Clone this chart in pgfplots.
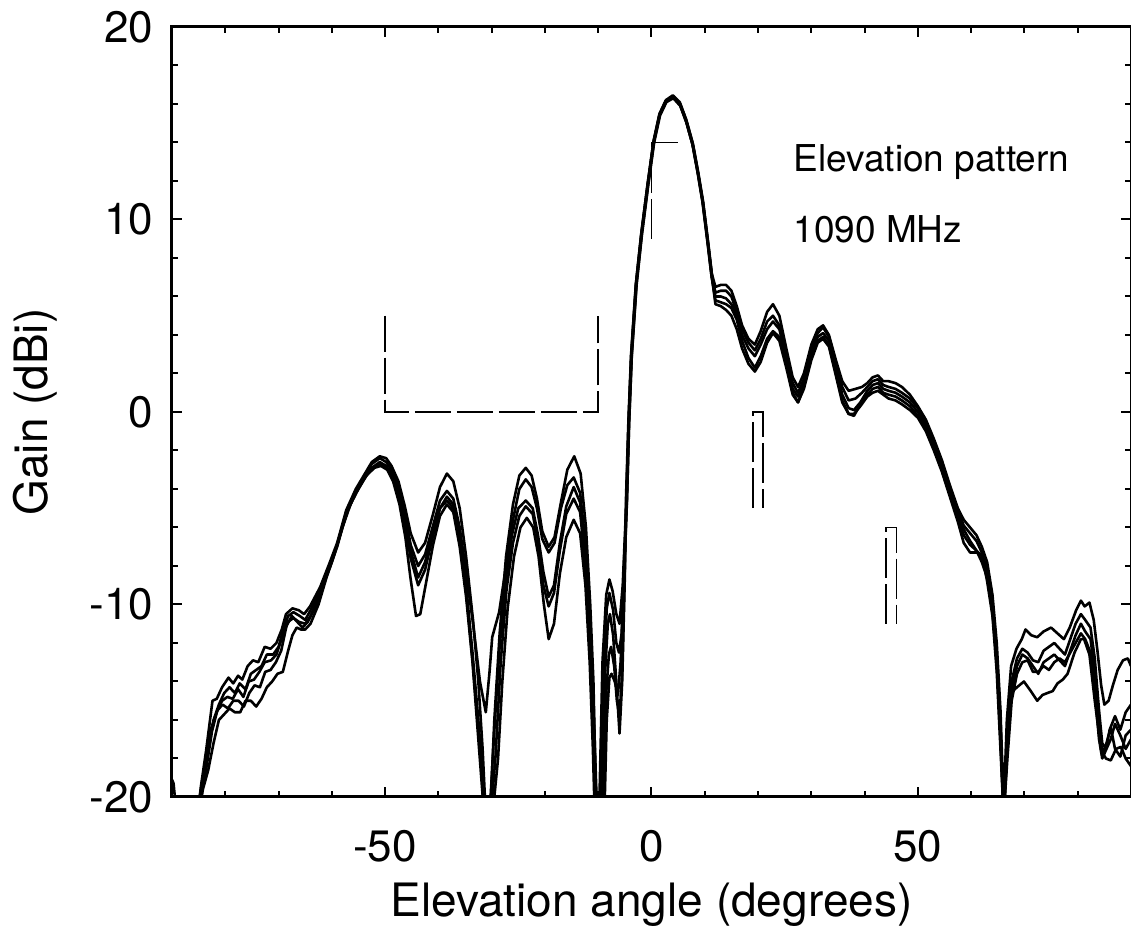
\documentclass[border=0pt]{standalone}
\usepackage{fontspec}
\setmainfont{TeX Gyre Heros}
\usepackage{pgfplots}
\pgfplotsset{compat=1.18}
\begin{document}
\begin{tikzpicture}
\begin{axis}[name=ax, at={(0,0)}, anchor=south west,
 scale only axis, width=479.5pt, height=385pt,
 xmin=-90, xmax=90, ymin=-20, ymax=20,
 xtick={-50,0,50}, xticklabels={-50,0,50},
 ytick={-20,-10,0,10,20}, yticklabels={-20,-10,0,10,20},
 minor xtick={-80,-70,-60,-40,-30,-20,-10,10,20,30,40,60,70,80},
 minor ytick={-18,-16,-14,-12,-8,-6,-4,-2,2,4,6,8,12,14,16,18},
 tick align=inside, xtick pos=both, ytick pos=both,
 major tick length=5pt, minor tick length=3pt,
 every tick/.style={black, line width=1pt},
 axis line style={line width=1.5pt},
 ticklabel style={font=\fontsize{22}{26}\selectfont},
 xticklabel style={yshift=-13pt},
 yticklabel style={xshift=-6pt},
 cycle list={{black, solid, mark=none}},
 every axis plot/.append style={black, line width=1.3pt, line join=round, mark=none},
 clip=true]

% tiny piece at left edge
\addplot coordinates {(-90,-19.1) (-89.7,-19.3) (-89.3,-20.5)};

% Series A (top)
\addplot coordinates {
(-85.2,-21) (-84.6,-19.5) (-83.6,-17.6) (-82.4,-15.0) (-81.6,-14.9) (-80.6,-14.3) (-79.4,-13.8) (-78.5,-14.1) (-77.6,-13.7) (-76.8,-13.9) (-75.8,-13.2) (-74.8,-12.9) (-73.8,-13.0) (-72.6,-12.2) (-71.5,-12.3) (-70.4,-12.0) (-69.4,-11.3) (-68.6,-10.5) (-67.4,-10.2) (-66.2,-10.3) (-65.2,-10.5) (-64.1,-10.1) (-62.2,-9.1) (-60.5,-7.9) (-59.0,-6.8) (-57.3,-5.1) (-55.5,-4.0) (-54,-3.3) (-52.5,-2.6) (-51,-2.3) (-49.8,-2.4) (-48.8,-2.8) (-47.5,-3.6) (-46.3,-4.9) (-45.2,-6.3) (-43.8,-7.3) (-42.5,-6.8) (-41,-5.3) (-39.7,-3.9) (-38.4,-3.2) (-37.2,-3.6) (-36,-5.0) (-34.8,-7.5) (-33.5,-10.8) (-32.5,-14) (-31.7,-17.5) (-31.1,-21) (-30.3,-21) (-29.5,-16) (-28.5,-11.5) (-27.3,-7.5) (-26,-4.8) (-24.8,-3.3) (-23.6,-2.9) (-22.5,-3.3) (-21.5,-4.5) (-20.5,-6.2) (-19.3,-7.0) (-18.2,-6.5) (-17,-4.7) (-15.8,-3.0) (-14.5,-2.3) (-13.3,-3.2) (-12.3,-6.0) (-11.5,-10) (-10.9,-14) (-10.4,-20.5) (-9.8,-20.5) (-9.2,-13) (-8.5,-9.5) (-7.9,-8.7) (-7.3,-9.3) (-6.6,-10.5) (-6.0,-11) (-5.4,-9) 
(-4.7,-4.5) (-4.3,-0.5) (-3.8,3.0) (-2.9,6.7) (-1.9,9.3) (-0.7,11.9) (0.4,14.1) (1.5,15.5) (2.7,16.2) (4,16.45) (5.3,16.1) (6.5,15.2) (7.7,14.0) (8.7,12.5) (9.6,11.0) (10.5,9.0) (11.3,7.2)
(12,6.5) (13,6.6) (14,6.6) (15,6.3) (16,5.5) (17,4.5) (18.2,3.8) (19.4,3.5) (20.5,4.2) (21.7,5.2) (22.8,5.6) (24,5.0) (25.3,3.3) (26.5,1.8) (27.5,1.3) (28.6,2.0) (30,3.5) (31.2,4.3) (32.2,4.5) (33.3,4.0) (34.6,2.7) (35.8,1.6) (37,1.1) (38.3,1.2) (39.5,1.3) (40.5,1.5) (41.5,1.8) (42.5,1.9) (43.5,1.6) (44.5,1.6) (45.8,1.5) (47,1.3) (48.5,0.9) (50,0.3) (51.5,-0.4) (53,-1.4) (54.5,-2.5) (56,-3.8) (57.5,-5.0) (58.6,-5.6) (59.8,-6.0) (61,-6.4) (62,-7.0) (63,-7.8) (64,-9.5) (64.8,-12) (65.5,-15.5) (66.1,-20.5) (66.7,-16) (67.5,-13.2) (68.5,-12.3) (69.5,-11.8) (70.2,-11.3) (71.3,-11.6) (72.4,-11.7) (73.6,-11.4) (75,-11.2) (76.2,-11.5) (77.4,-11.8) (78.5,-11.2) (79.7,-10.3) (80.6,-9.8) (81.3,-10.1) (82.2,-9.9) (83,-10.8) (83.7,-12.4) (84.4,-14.2) (85,-15.2) (85.8,-15) (86.6,-14.2) (87.5,-13.4) (88.5,-12.9) (89.4,-12.8) (90,-13.2)
};

% Series B
\addplot coordinates {
(-85,-21) (-84.4,-19.7) (-83.4,-17.9) (-82.2,-16.0) (-81.2,-15.2) (-80.2,-14.6) (-79.2,-14.3) (-78.2,-14.6) (-77.3,-14.1) (-76.2,-14.4) (-75.2,-13.6) (-74.2,-13.4) (-73.2,-13.2) (-72.2,-12.6) (-71,-12.6) (-70,-12.2) (-69,-11.2) (-68.2,-10.6) (-67.2,-10.4) (-66,-10.6) (-65,-10.8) (-64,-10.3) (-62.2,-9.3) (-60.5,-8.0) (-59,-6.9) (-57.3,-5.2) (-55.5,-4.1) (-54,-3.4) (-52.5,-2.7) (-51,-2.4) (-49.8,-2.6) (-48.8,-3.0) (-47.5,-3.9) (-46.3,-5.3) (-45.2,-6.9) (-43.8,-8.0) (-42.5,-7.4) (-41,-5.9) (-39.7,-4.6) (-38.4,-4.1) (-37.2,-4.5) (-36,-6.0) (-34.8,-8.3) (-33.4,-11.2) (-32.2,-14) (-31.1,-15.6) (-30.4,-13.5) (-29.9,-11.7) (-28.6,-10.4) (-27.4,-8.2) (-26,-5.6) (-24.8,-4.0) (-23.6,-3.5) (-22.5,-3.9) (-21.5,-5.0) (-20.5,-6.6) (-19.3,-7.3) (-18.2,-6.8) (-17,-5.0) (-15.8,-3.8) (-14.6,-3.4) (-13.4,-4.2) (-12.4,-6.8) (-11.6,-10.5) (-10.9,-15) (-10.2,-21) (-9.6,-21) (-9.0,-14) (-8.4,-10.2) (-7.9,-9.4) (-7.2,-10.3) (-6.6,-12.0) (-6.1,-12.5) (-5.6,-11.5) (-5.1,-7.5)
(-4.6,-4.5) (-4.2,-0.5) (-3.7,3.0) (-2.8,6.7) (-1.8,9.3) (-0.6,11.9) (0.5,14.1) (1.6,15.5) (2.8,16.2) (4.1,16.4) (5.4,16.0) (6.6,15.1) (7.8,13.9) (8.8,12.4) (9.7,10.9) (10.6,8.9) (11.4,7.0)
(12,6.2) (13,6.3) (14,6.3) (15,6.0) (16,5.2) (17,4.3) (18.2,3.6) (19.4,3.2) (20.5,3.8) (21.7,4.7) (22.8,5.0) (24,4.5) (25.3,3.0) (26.5,1.5) (27.5,1.0) (28.6,1.7) (30,3.2) (31.2,4.1) (32.2,4.4) (33.3,3.9) (34.6,2.6) (35.8,1.3) (37,0.6) (38.3,0.7) (39.5,1.0) (40.5,1.3) (41.5,1.6) (42.5,1.7) (43.5,1.4) (44.5,1.3) (45.8,1.2) (47,1.0) (48.5,0.7) (50,0.2) (51.5,-0.5) (53,-1.5) (54.5,-2.6) (56,-3.9) (57.5,-5.1) (58.6,-5.9) (59.8,-6.3) (61,-6.7) (62,-7.3) (63,-8.2) (64,-9.9) (64.8,-12.5) (65.5,-16) (66.1,-21) (66.8,-17) (67.6,-14.0) (68.6,-12.8) (69.6,-12.3) (70.6,-12.5) (71.6,-12.9) (72.6,-13.0) (73.6,-12.4) (74.6,-12.2) (75.6,-12.0) (76.6,-12.3) (77.6,-12.6) (78.6,-11.8) (79.6,-11.0) (80.6,-10.5) (81.4,-10.8) (82.4,-11.2) (83.2,-12.8) (84,-15.5) (84.6,-17.2) (85.3,-17.5) (86,-16.5) (87,-15.8) (88,-16.5) (89,-15.6) (90,-15.2)
};

% Series C
\addplot coordinates {
(-85.4,-21) (-84.8,-20) (-83.8,-18.3) (-82.6,-16.4) (-81.6,-15.6) (-80.6,-15.0) (-79.6,-14.8) (-78.6,-14.9) (-77.6,-14.4) (-76.6,-14.8) (-75.6,-14.0) (-74.6,-13.9) (-73.6,-13.5) (-72.6,-13.0) (-71.4,-12.9) (-70.4,-12.6) (-69.2,-11.6) (-68.2,-10.9) (-67.2,-10.7) (-66.2,-10.9) (-65,-11.0) (-64,-10.6) (-62.2,-9.4) (-60.5,-8.1) (-59,-7.0) (-57.3,-5.3) (-55.5,-4.2) (-54,-3.5) (-52.5,-2.9) (-51,-2.7) (-49.8,-2.9) (-48.8,-3.3) (-47.5,-4.3) (-46.3,-5.8) (-45.2,-7.6) (-43.8,-9.0) (-42.5,-8.2) (-41,-6.4) (-39.7,-5.0) (-38.4,-4.4) (-37.2,-4.8) (-36,-6.5) (-34.8,-9.0) (-33.6,-12.5) (-32.5,-16) (-31.5,-19.5) (-30.6,-22) (-29.6,-17) (-28.6,-12.5) (-27.4,-8.8) (-26.2,-6.4) (-25,-5.0) (-23.6,-4.6) (-22.3,-5.0) (-21.3,-6.4) (-20.3,-8.3) (-19.3,-9.6) (-18.3,-9.0) (-17.2,-6.8) (-16,-4.9) (-14.6,-3.9) (-13.4,-4.7) (-12.4,-7.5) (-11.6,-11.5) (-10.9,-16) (-10.2,-21.5) (-9.4,-21) (-8.8,-14) (-8.2,-11.0) (-7.8,-10.5) (-7.2,-11.6) (-6.6,-14) (-6.0,-16.7) (-5.5,-14) (-5.0,-8.5)
(-4.8,-4.6) (-4.35,-0.6) (-3.85,2.9) (-2.95,6.6) (-1.95,9.2) (-0.75,11.8) (0.35,14.0) (1.45,15.4) (2.65,16.15) (3.95,16.4) (5.25,16.05) (6.45,15.15) (7.65,13.95) (8.65,12.45) (9.55,10.95) (10.45,8.95) (11.25,7.1)
(12,6.0) (13,6.0) (14,5.9) (15,5.6) (16,5.0) (17,4.0) (18.2,3.3) (19.4,2.9) (20.5,3.5) (21.7,4.3) (22.8,4.7) (24,4.3) (25.3,2.8) (26.5,1.2) (27.5,0.8) (28.6,1.5) (30,3.0) (31.2,3.9) (32.2,4.1) (33.3,3.7) (34.6,2.3) (35.8,0.9) (37,0.2) (38,0.1) (39.2,0.5) (40.5,1.1) (41.5,1.4) (42.5,1.5) (43.5,1.2) (44.5,1.1) (45.8,1.0) (47,0.8) (48.5,0.5) (50,0.0) (51.5,-0.7) (53,-1.7) (54.5,-2.8) (56,-4.1) (57.5,-5.3) (58.6,-6.1) (59.8,-6.7) (61,-7.2) (62,-7.8) (63,-8.6) (64,-10.2) (64.8,-13) (65.5,-16.5) (66.1,-21) (66.8,-17.5) (67.6,-14.5) (68.6,-13.2) (69.6,-12.6) (70.6,-12.8) (71.6,-13.2) (72.6,-13.6) (73.6,-13.0) (74.6,-12.8) (75.6,-12.6) (76.6,-12.9) (77.6,-13.2) (78.6,-12.4) (79.6,-11.6) (80.6,-11.0) (81.4,-11.4) (82.4,-11.8) (83.2,-13.5) (84,-16) (84.6,-17.8) (85.4,-17.2) (86.2,-16.4) (87,-17.5) (88,-17.9) (89,-16.8) (90,-16.5)
};

% Series D
\addplot coordinates {
(-85.2,-21) (-84.5,-19.9) (-83.5,-18.4) (-82.5,-16.6) (-81.5,-15.5) (-80.5,-15.2) (-79.5,-15.4) (-78.5,-15.0) (-77.5,-15.0) (-76.5,-15.3) (-75.5,-14.6) (-74.5,-14.2) (-73.5,-14.3) (-72.5,-13.5) (-71.5,-13.4) (-70.5,-13.0) (-69.5,-12.4) (-68.5,-11.1) (-67.5,-10.6) (-66.5,-10.9) (-65.5,-11.2) (-64.5,-10.9) (-63,-10.1) (-61.5,-8.9) (-60,-7.8) (-58.5,-6.4) (-57,-5.1) (-55.5,-4.2) (-54,-3.5) (-52.5,-2.9) (-51,-2.6) (-49.8,-2.8) (-48.8,-3.2) (-47.5,-4.0) (-46.3,-5.4) (-45.2,-7.2) (-43.8,-8.6) (-42.5,-7.8) (-41,-6.2) (-39.7,-5.0) (-38.4,-4.6) (-37.2,-5.0) (-36,-6.7) (-34.8,-9.3) (-33.6,-12.8) (-32.5,-16.5) (-31.5,-20) (-30.5,-22) (-29.3,-18) (-28.3,-13) (-27.2,-9.2) (-26,-6.8) (-24.8,-5.4) (-23.6,-4.9) (-22.3,-5.3) (-21.3,-6.7) (-20.3,-9.0) (-19.3,-10.1) (-18.3,-9.4) (-17.2,-7.2) (-16,-5.3) (-14.6,-4.5) (-13.4,-5.2) (-12.4,-8) (-11.6,-12) (-10.9,-16.5) (-10.4,-21.5) (-9.2,-21.5) (-8.6,-15) (-8.0,-12.6) (-7.6,-12.2) (-7.0,-13.2) (-6.5,-15.0) (-6.0,-15.8) (-5.5,-13.5) (-5.0,-8.0)
(-4.7,-4.6) (-4.3,-0.6) (-3.8,2.9) (-2.9,6.6) (-1.9,9.2) (-0.7,11.8) (0.4,14.0) (1.5,15.4) (2.7,16.1) (4,16.35) (5.3,16.0) (6.5,15.1) (7.7,13.9) (8.7,12.4) (9.6,10.9) (10.5,8.9) (11.3,7.0)
(12,5.8) (13,5.7) (14,5.6) (15,5.4) (16,4.8) (17,3.7) (18.2,2.8) (19.4,2.3) (20.5,2.9) (21.7,3.8) (22.8,4.2) (24,3.9) (25.3,2.5) (26.5,1.0) (27.5,0.5) (28.6,1.3) (30,2.8) (31.2,3.7) (32.2,3.9) (33.3,3.5) (34.6,2.0) (35.8,0.6) (37,-0.1) (38,-0.2) (39.2,0.4) (40.5,0.9) (41.5,1.2) (42.5,1.3) (43.5,1.0) (44.5,0.9) (45.8,0.8) (47,0.6) (48.5,0.3) (50,-0.2) (51.5,-0.8) (53,-1.8) (54.5,-3.0) (56,-4.3) (57.5,-5.5) (58.6,-6.4) (59.8,-6.9) (61,-7.2) (62,-7.5) (63,-8.4) (64,-10.4) (64.8,-13) (65.5,-17) (66.1,-21) (66.8,-18) (67.6,-15) (68.6,-13.6) (69.6,-13.0) (70.6,-12.9) (71.6,-13.5) (72.6,-13.5) (73.6,-13.2) (74.6,-13.4) (75.6,-13.0) (76.6,-12.8) (77.6,-13.0) (78.6,-12.5) (79.6,-12.0) (80.6,-11.5) (81.4,-11.8) (82.4,-12.5) (83.2,-14.5) (84,-17) (84.6,-18) (85.4,-17.5) (86.2,-17.0) (87,-16.2) (88,-16.8) (89,-17.5) (90,-17.0)
};

% Series E (bottom)
\addplot coordinates {
(-85,-21) (-84.2,-19.6) (-83.2,-18.6) (-82.2,-17.2) (-81.2,-16.0) (-80.2,-15.7) (-79.2,-15.4) (-78.2,-15.6) (-77.2,-15.6) (-76.2,-15.0) (-75.2,-15.0) (-74.2,-15.3) (-73.2,-14.9) (-72.2,-14.3) (-71.2,-14.0) (-70.2,-13.6) (-69.2,-13.5) (-68.2,-12.4) (-67.4,-11.6) (-66.6,-11.2) (-65.8,-11.3) (-65,-11.3) (-64,-11.0) (-62.5,-10.0) (-61,-8.6) (-59.5,-7.4) (-58,-6.0) (-56.5,-4.8) (-55,-4.0) (-53.5,-3.3) (-52,-2.9) (-50.8,-2.8) (-49.6,-3.0) (-48.5,-3.6) (-47.3,-4.8) (-46.2,-6.5) (-45.2,-8.7) (-44.2,-10.6) (-43.4,-10.5) (-42.4,-9.0) (-41,-6.9) (-39.7,-5.4) (-38.4,-4.8) (-37.2,-5.2) (-36,-7.0) (-34.8,-9.6) (-33.6,-13) (-32.5,-17) (-31.4,-21) (-30.2,-22) (-28.8,-18) (-28,-14) (-27,-10.2) (-25.8,-7.5) (-24.6,-6.0) (-23.4,-5.5) (-22.2,-6.0) (-21.2,-7.5) (-20.2,-10.0) (-19.3,-11.8) (-18.3,-11.0) (-17.2,-8.4) (-16,-6.5) (-14.6,-5.6) (-13.4,-6.3) (-12.4,-9) (-11.6,-13) (-11,-17.5) (-10.6,-21.5) (-8.9,-21.5) (-8.4,-16) (-7.9,-13.8) (-7.5,-13.6) (-6.9,-14.0) (-6.3,-14.7) (-5.8,-13) (-5.2,-9)
(-4.6,-4.6) (-4.2,-0.6) (-3.7,2.9) (-2.8,6.6) (-1.8,9.2) (-0.6,11.8) (0.5,14.0) (1.6,15.4) (2.8,16.1) (4.1,16.3) (5.4,15.9) (6.6,15.0) (7.8,13.8) (8.8,12.3) (9.7,10.8) (10.6,8.8) (11.4,6.9)
(12,5.6) (13,5.5) (14,5.3) (15,5.0) (16,4.3) (17,3.3) (18.2,2.5) (19.4,2.1) (20.5,2.6) (21.7,3.6) (22.8,4.1) (24,3.7) (25.3,2.3) (26.5,0.9) (27.5,0.5) (28.6,1.2) (30,2.7) (31.2,3.6) (32.2,3.8) (33.3,3.4) (34.6,1.9) (35.8,0.5) (37,-0.1) (38,-0.1) (39.2,0.3) (40.5,0.8) (41.5,1.0) (42.5,1.1) (43.5,0.9) (44.5,0.7) (45.8,0.6) (47,0.4) (48.5,0.1) (50,-0.3) (51.5,-1.0) (53,-2.0) (54.5,-3.1) (56,-4.4) (57.5,-5.7) (58.6,-6.8) (59.8,-7.3) (61,-7.3) (62,-7.4) (63,-8.8) (64,-10.6) (64.8,-13.5) (65.5,-17.5) (66.1,-21) (66.8,-17) (67.4,-14.6) (68.6,-14.3) (69.9,-14.0) (71.2,-14.5) (72.4,-15.0) (73.4,-14.7) (74.3,-14.6) (75.3,-14.5) (76.2,-14.1) (77.2,-13.9) (78.1,-13.6) (79.4,-12.5) (80.6,-11.8) (81.2,-11.8) (82.2,-12.6) (83.2,-15.0) (84.4,-17.6) (85.3,-18.0) (86.2,-18.1) (87.2,-17.5) (88.1,-17.4) (89,-18.0) (90,-18.4)
};

% mask lines
\addplot[line width=0.9pt, dash pattern=on 18pt off 3pt, line join=miter] coordinates {(-50,5) (-50,0) (-10,0) (-10,5)};
\addplot[line width=0.9pt, dash pattern=on 20pt off 3pt, line join=miter] coordinates {(0,9) (0,14) (5,14)};
\addplot[line width=0.9pt, dash pattern=on 20pt off 3pt, line join=miter] coordinates {(19,-5) (19,0) (21,0) (21,-5)};
\addplot[line width=0.9pt, dash pattern=on 20pt off 3pt, line join=miter] coordinates {(44,-11) (44,-6) (46,-6) (46,-11)};

\node[anchor=base west, inner sep=0pt, font=\fontsize{18.5}{22}\selectfont] at (axis cs:26.6,12.47) {Elevation pattern};
\node[anchor=base west, inner sep=0pt, font=\fontsize{18.5}{22}\selectfont] at (axis cs:26.6,8.78) {1090 MHz};
\end{axis}
\node[font=\fontsize{23}{27}\selectfont] at ([yshift=-54pt]ax.south) {Elevation angle (degrees)};
\node[rotate=90, font=\fontsize{23}{27}\selectfont] at ([xshift=-68.5pt]ax.west) {Gain (dBi)};
\pgfresetboundingbox
\path ([xshift=-86pt, yshift=-77pt]ax.south west) rectangle ([yshift=13.5pt]ax.north east);
\end{tikzpicture}
\end{document}
